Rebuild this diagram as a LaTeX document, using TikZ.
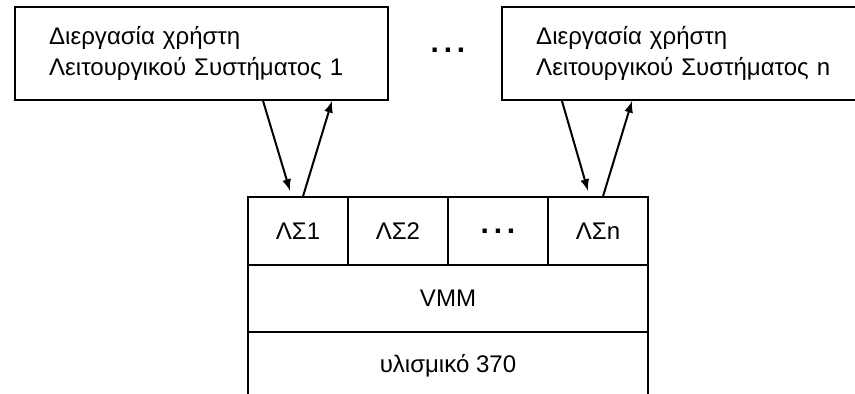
\documentclass[tikz,border=0pt]{standalone}
\usepackage{fontspec}
\setmainfont{Liberation Sans}
\newcommand{\osdots}{{\fontsize{15}{15}\bfseries.\kern2.4pt.\kern2.4pt.}}
\begin{document}
\begin{tikzpicture}
      [>=latex,line width=1pt,
      proc node/.style={rectangle,draw,minimum width=6.544cm,minimum height=1.631cm,
        inner xsep=0.6cm,text width=5.344cm,align=left,font=\fontsize{12}{15}\selectfont},
      os node/.style={rectangle,draw,minimum width=1.754cm,minimum height=1.193cm,font=\fontsize{12}{14}\selectfont},
      layer node/.style={rectangle,draw,minimum width=7.018cm,minimum height=1.175cm,font=\fontsize{12}{14}\selectfont}]
      \useasboundingbox (0,0) rectangle (15,6.912);
      \node[proc node] (os1) at (3.535,5.974) {Διεργασία χρήστη\\Λειτουργικού Συστήματος 1};
      \node[proc node] (osn) at (12.079,5.974) {Διεργασία χρήστη\\Λειτουργικού Συστήματος n};
      \node (dots) at (7.860,6.030) {\osdots};
      \node[os node] (ls1) at (5.228,2.860) {ΛΣ1};
      \node[os node] (ls2) at (6.982,2.860) {ΛΣ2};
      \node[os node] (lsd) at (8.737,2.860) {\osdots};
      \node[os node] (lsn) at (10.491,2.860) {ΛΣn};
      \node[layer node] (vmm) at (7.860,1.675) {VMM};
      \node[layer node] (hw) at (7.860,0.500) {υλισμικό 370};
      \draw[->] ([xshift=1.08cm]os1.south) -- ([xshift=-0.14cm,yshift=0.09cm]ls1.north);
      \draw[->] ([xshift=0.09cm]ls1.north) -- ([xshift=2.29cm]os1.south);
      \draw[->] ([xshift=-2.22cm]osn.south) -- ([xshift=-0.175cm,yshift=0.09cm]lsn.north);
      \draw[->] ([xshift=0.09cm]lsn.north) -- ([xshift=-0.99cm]osn.south);
    \end{tikzpicture}
\end{document}
